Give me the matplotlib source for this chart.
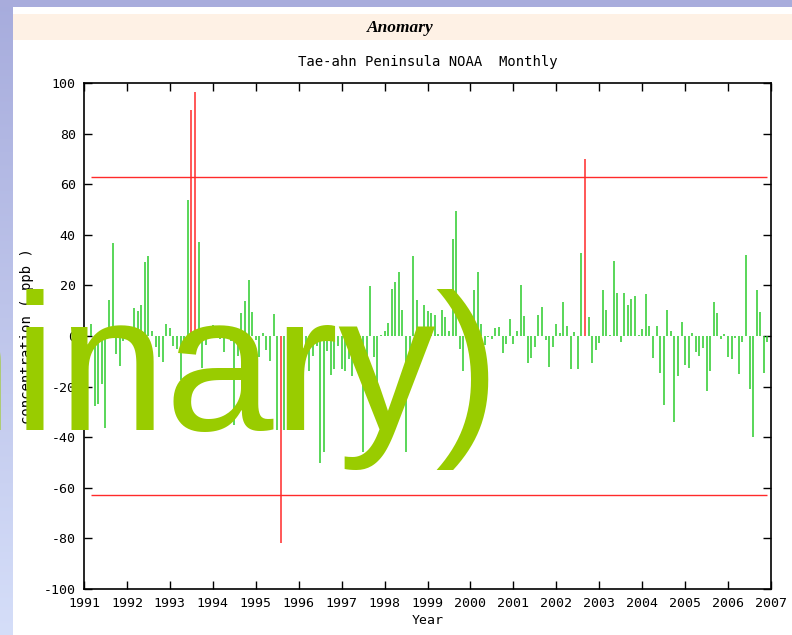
import numpy as np
import pandas as pd
import matplotlib
matplotlib.use("Agg")
import matplotlib.pyplot as plt
from matplotlib.patches import Rectangle

plt.rcParams["axes.unicode_minus"] = False

# ---- data: monthly CH4 anomalies (ppb), Mar 1991 .. Dec 2006 ----
start_month = "1991-03"
anomaly = [
    4.6, -27.7, -26.9, -19.1, -36.5, 14.2, 36.9, -7.1, -11.7, -2.0,            # 1991 Mar-Dec
    -1.0, 2.6, 10.9, 9.9, 12.3, 29.2, 31.6, 2.1, -4.2, -8.2, -10.4, 4.6,        # 1992
    3.3, -3.8, -5.0, -17.4, -4.0, 53.8, 89.5, 96.6, 37.3, -12.5, -3.6, 3.7,     # 1993
    4.3, 1.0, -1.0, -6.2, 4.0, -2.0, -35.0, -7.9, 9.0, 13.8, 22.0, 9.5,         # 1994
    -1.6, -8.2, 1.3, -5.5, -10.0, 8.5, -37.0, -82.0, -37.0, -3.0, -10.0, -6.0,  # 1995
    -15.0, -12.0, -8.0, -14.0, -8.0, -4.0, -50.0, -45.7, -6.0, -15.4, -13.0, -4.0,  # 1996
    -13.0, -14.0, -9.0, -16.0, 1.0, -3.0, -46.0, -10.0, 19.9, -8.2, -24.0, 0.5,     # 1997
    2.0, 5.0, 18.4, 21.5, 25.2, 10.3, -45.7, -21.0, 31.6, 14.2, 3.0, 12.3,     # 1998
    9.9, 9.0, 8.3, 0.7, 10.3, 7.4, 2.1, 38.2, 49.4, -5.0, -14.0, 3.0,           # 1999
    -2.0, 18.2, 25.4, 4.6, -3.6, -0.5, -1.3, 3.0, 3.6, -6.9, -3.2, 6.6,         # 2000
    -3.2, 2.1, 20.0, 7.9, -10.8, -8.8, -4.2, 8.3, 11.3, -1.6, -12.1, -4.5,      # 2001
    4.6, 1.0, 13.3, 4.1, -13.2, 1.6, -13.2, 33.0, 70.0, 7.4, -10.8, -5.5,       # 2002
    -2.6, 18.2, 10.3, 0.3, 29.6, 17.1, -2.2, 17.1, 12.3, 14.8, 15.9, 0.3,       # 2003
    2.6, 16.5, 4.0, -8.8, 4.0, -14.8, -27.3, 10.3, 2.1, -33.9, -15.7, 5.5,      # 2004
    -11.3, -12.8, 1.0, -6.2, -7.9, -4.6, -21.6, -13.7, 13.3, 9.0, -1.0, 0.7,    # 2005
    -8.4, -9.2, -0.9, -15.0, -2.2, 32.0, -21.0, -39.8, 18.2, 9.4, -14.8, -2.2,  # 2006
]
threshold = 63.0
year_ticks = list(range(1991, 2008))
y_ticks = list(range(-100, 101, 20))

title = "Tae-ahn Peninsula NOAA  Monthly"
xlabel = "Year"
ylabel = "concentration ( ppb )"
header = "Anomary"
caption_head = "(prelimi"
caption_tail = "nary)"

# ---- derived series ----
anomaly = np.asarray(anomaly)
dates = pd.period_range(start_month, periods=len(anomaly), freq="M")
t = dates.year.values + (dates.month.values - 1) / 12.0
outlier = np.abs(anomaly) > threshold

W, H = 792, 635
fig = plt.figure(figsize=(W / 100, H / 100), dpi=100)
fig.patch.set_facecolor("white")

# slide background: bluish frame, darker at the top, lighter further down
bg = fig.add_axes([0, 0, 1, 1], zorder=-10)
bg.set_axis_off()
grad = np.linspace(0, 1, 256)[:, None]
c_top = np.array([0.655, 0.675, 0.865])
c_bot = np.array([0.835, 0.870, 0.975])
img = c_top[None, None, :] * (1 - grad[..., None]) + c_bot[None, None, :] * grad[..., None]
bg.imshow(np.repeat(img, 2, axis=1), extent=[0, W, H, 0], aspect="auto", origin="upper")
bg.add_patch(Rectangle((0, 0), W, 7, facecolor="#A8ACDC", edgecolor="none"))
bg.add_patch(Rectangle((13, 7), W - 13, H - 7, facecolor="white", edgecolor="none"))
bg.add_patch(Rectangle((13, 14), W - 13, 26, facecolor="#FEF1E5", edgecolor="none"))
bg.set_xlim(0, W)
bg.set_ylim(H, 0)
bg.text(400, 28, header, ha="center", va="center", fontsize=12.5,
        family="Liberation Serif", fontweight="bold", fontstyle="italic", color="black")

# ---- chart ----
mono = "DejaVu Sans Mono"
ax = fig.add_axes([84 / W, 1 - 589 / H, 687 / W, 506 / H])
ax.set_xlim(1991, 2007)
ax.set_ylim(-100, 100)

green = "#2BCB2B"
red = "#FF2A2A"
ax.vlines(t[~outlier], 0, anomaly[~outlier], colors=green, linewidth=1.1)
ax.vlines(t[outlier], 0, anomaly[outlier], colors=red, linewidth=1.1)
ax.hlines([threshold, -threshold], t[0], t[-1], colors=red, linewidth=1.0)

ax.set_xticks(year_ticks)
ax.set_yticks(y_ticks)
ax.tick_params(direction="in", length=6, width=1.0, top=True, right=True,
               labelsize=9.5, pad=6, colors="black")
for lab in ax.get_xticklabels() + ax.get_yticklabels():
    lab.set_family(mono)
for s in ax.spines.values():
    s.set_linewidth(1.2)

ax.set_xlabel(xlabel, family=mono, fontsize=9.5, labelpad=3)
fig.text(27 / W, 1 - 336 / H, ylabel, rotation=90, ha="center", va="center",
         family=mono, fontsize=10)
fig.text(428 / W, 1 - 62 / H, title, ha="center", va="center", family=mono, fontsize=10)

# large overlaid caption text, running off the left edge of the slide
cap_kw = dict(va="baseline", family="Liberation Sans", fontsize=140,
              color="#99CC00", zorder=20)
fig.text(57 / W, 1 - 430 / H, caption_tail, ha="left", **cap_kw)
fig.text(57 / W, 1 - 430 / H, caption_head, ha="right", **cap_kw)

fig.savefig("out.png", dpi=100)
